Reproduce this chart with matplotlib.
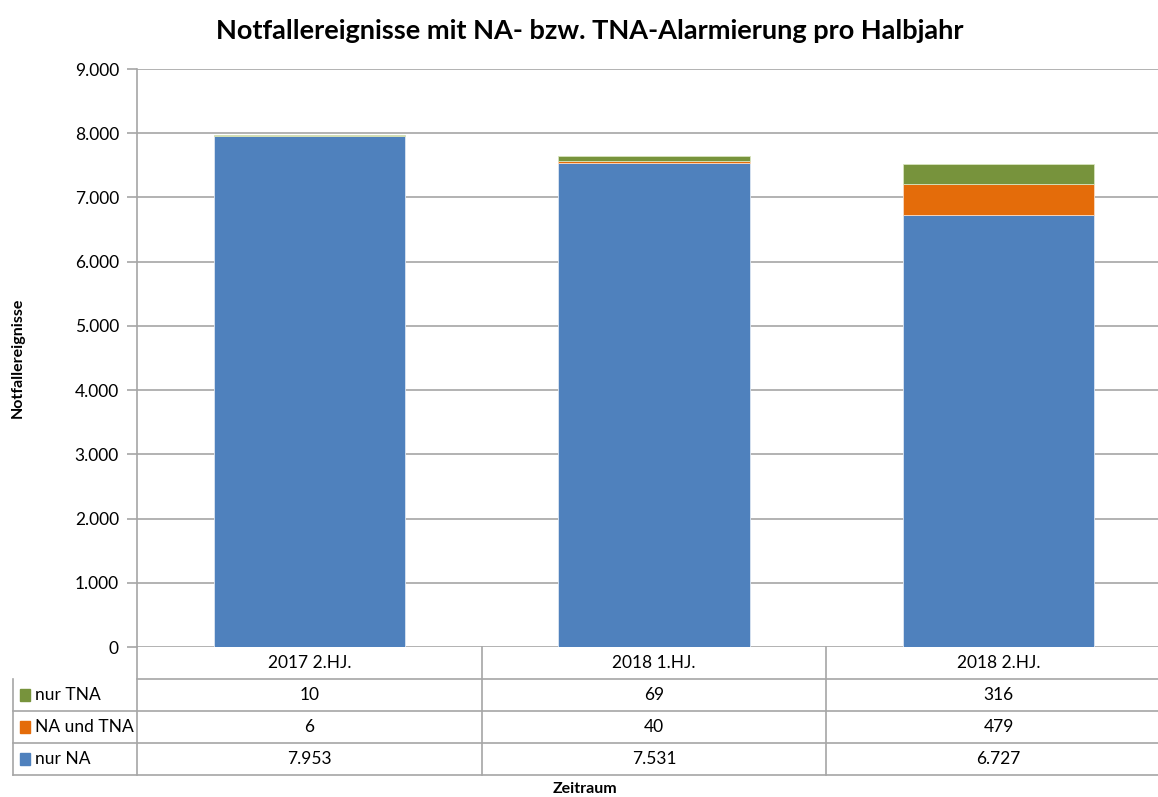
import matplotlib
matplotlib.use('Agg')
import matplotlib.pyplot as plt
from matplotlib.transforms import blended_transform_factory
from matplotlib.lines import Line2D
from matplotlib.patches import Rectangle

plt.rcParams['font.family'] = ['Lato', 'DejaVu Sans']

categories = ['2017 2.HJ.', '2018 1.HJ.', '2018 2.HJ.']
nur_na = [7953, 7531, 6727]
na_und_tna = [6, 40, 479]
nur_tna = [10, 69, 316]
y_ticks = [0, 1000, 2000, 3000, 4000, 5000, 6000, 7000, 8000, 9000]

c_blue = '#4F81BD'
c_orange = '#E46C0A'
c_green = '#77933C'
c_grid = '#A6A6A6'


def de_fmt(v):
    return f"{v:,}".replace(',', '.')


W, H = 1158, 797
fig = plt.figure(figsize=(W / 100, H / 100), dpi=100)
left, right, top, bottom = 137, 1171, 69, 647
ax = fig.add_axes([left / W, 1 - bottom / H, (right - left) / W, (bottom - top) / H])

x = list(range(len(categories)))
bw = 0.555
ax.bar(x, nur_na, bw, color=c_blue, edgecolor='#DCE6F2', linewidth=0.6, zorder=3)
bottom2 = nur_na
ax.bar(x, na_und_tna, bw, bottom=bottom2, color=c_orange, edgecolor='#F9D9C0', linewidth=0.6, zorder=3)
bottom3 = [a + b for a, b in zip(nur_na, na_und_tna)]
ax.bar(x, nur_tna, bw, bottom=bottom3, color=c_green, edgecolor='#D7E4BD', linewidth=0.6, zorder=3)

fs = 12.5
ax.set_xlim(-0.5, 2.5)
ax.set_ylim(0, 9000)
ax.set_yticks(y_ticks)
ax.set_yticklabels([de_fmt(v) for v in y_ticks], fontsize=fs)
ax.yaxis.grid(True, color=c_grid, linewidth=1.2, zorder=0)
ax.set_xticks([])
for s in ['top', 'right', 'bottom']:
    ax.spines[s].set_visible(False)
ax.spines['left'].set_color(c_grid)
ax.spines['left'].set_linewidth(1.2)
ax.tick_params(axis='y', color=c_grid, length=7, width=1.2, pad=6)

# data table below the axes
tr = blended_transform_factory(ax.transData, ax.transAxes)
rh = 32 / (bottom - top)
xl = -0.5 - (left - 13) / ((right - left) / 3)
rows = [('nur TNA', nur_tna, c_green), ('NA und TNA', na_und_tna, c_orange), ('nur NA', nur_na, c_blue)]
lkw = dict(color=c_grid, linewidth=1.2, transform=tr, clip_on=False)
ax.add_line(Line2D([-0.5, 2.6], [0 - rh, 0 - rh], **lkw))
for i in range(len(rows)):
    ax.add_line(Line2D([xl, 2.6], [-(i + 2) * rh, -(i + 2) * rh], **lkw))
for xb in [-0.5, 0.5, 1.5]:
    ax.add_line(Line2D([xb, xb], [0, -4 * rh], **lkw))
ax.add_line(Line2D([xl, xl], [-rh, -4 * rh], **lkw))

for i, c in enumerate(categories):
    ax.text(i, -0.5 * rh, c, ha='center', va='center', fontsize=fs, transform=tr)
for r, (name, vals, col) in enumerate(rows):
    yc = -(r + 1.5) * rh
    ax.add_patch(Rectangle((xl + 0.02, yc - 0.18 * rh), 0.03, 0.36 * rh, color=col,
                           transform=tr, clip_on=False))
    ax.text(xl + 0.065, yc, name, ha='left', va='center', fontsize=fs, transform=tr)
    for i, v in enumerate(vals):
        ax.text(i, yc, de_fmt(v), ha='center', va='center', fontsize=fs, transform=tr)

fig.text(590 / W, 1 - 31 / H, 'Notfallereignisse mit NA- bzw. TNA-Alarmierung pro Halbjahr',
         ha='center', va='center', fontsize=19.5, fontweight='bold')
fig.text(18 / W, 1 - 358 / H, 'Notfallereignisse', rotation=90, ha='center', va='center',
         fontsize=11.5, fontweight='bold')
fig.text(585 / W, 1 - 789 / H, 'Zeitraum', ha='center', va='center', fontsize=11.5, fontweight='bold')

fig.savefig('out.png', dpi=100)
